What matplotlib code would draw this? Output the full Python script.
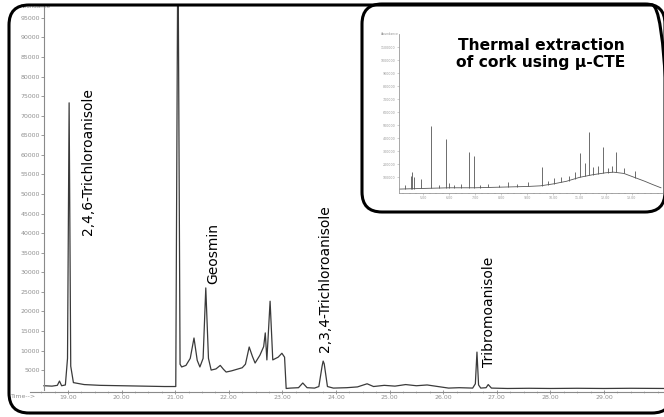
import numpy as np
import matplotlib.pyplot as plt
from matplotlib.patches import FancyBboxPatch
from matplotlib.ticker import MultipleLocator

# TIC of the cork sample, zoomed on the taint compounds (time in min)
time_min = [18.55, 18.70, 18.80, 18.84, 18.88, 18.95, 18.99, 19.02, 19.05, 19.10,
            19.30, 19.60, 20.00, 20.40, 20.80, 21.01, 21.05, 21.09, 21.12, 21.20,
            21.28, 21.35, 21.41, 21.46, 21.52, 21.57, 21.62, 21.67, 21.76, 21.84,
            21.90, 21.95, 22.05, 22.15, 22.25, 22.31, 22.38, 22.44, 22.49, 22.58,
            22.65, 22.68, 22.71, 22.77, 22.82, 22.92, 22.99, 23.04, 23.07, 23.15,
            23.30, 23.38, 23.46, 23.60, 23.68, 23.74, 23.76, 23.78, 23.84, 23.95,
            24.20, 24.40, 24.58, 24.70, 24.90, 25.10, 25.30, 25.50, 25.70, 25.90,
            26.10, 26.30, 26.55, 26.60, 26.63, 26.66, 26.70, 26.80, 26.84, 26.90,
            27.20, 27.60, 28.00, 28.50, 29.00, 29.50, 30.15]
abundance = [1000, 900, 1100, 2200, 1000, 1200, 8000, 73300, 6000, 1800,
             1300, 1100, 1000, 900, 800, 800, 120000, 6500, 5800, 6200,
             8000, 13200, 7500, 5800, 8000, 26000, 8000, 5000, 5300, 6200,
             5200, 4500, 4800, 5200, 5600, 6500, 10900, 8500, 6800, 8800,
             11000, 14500, 7600, 22600, 7600, 8300, 9300, 8300, 300, 400,
             500, 1700, 500, 400, 800, 6000, 7300, 6600, 800, 400,
             500, 700, 1500, 800, 1100, 900, 1300, 1000, 1200, 800,
             400, 500, 400, 1500, 9600, 1200, 400, 500, 1300, 400,
             300, 350, 300, 350, 300, 350, 300]

compounds = ["2,4,6-Trichloroanisole", "Geosmin", "2,3,4-Trichloroanisole", "Tribromoanisole"]
x_ticks = [19, 20, 21, 22, 23, 24, 25, 26, 27, 28, 29]
y_ticks = list(range(5000, 100000, 5000))

# full thermal extraction run for the small panel
inset_bg_t = [4.08, 5.0, 6.0, 7.0, 8.0, 9.0, 9.5, 10.0, 10.5, 11.0, 11.5, 12.0, 12.3, 12.7, 13.1, 13.5, 13.8, 14.12]
inset_bg_v = [0.1, 0.15, 0.2, 0.2, 0.25, 0.3, 0.35, 0.5, 0.7, 1.0, 1.2, 1.35, 1.4, 1.3, 1.0, 0.7, 0.45, 0.2]
inset_peak_t = [4.30, 4.55, 4.58, 4.64, 4.92, 5.31, 5.60, 5.88, 6.00, 6.20, 6.45, 6.76, 6.95,
                7.20, 7.49, 7.90, 8.26, 8.60, 9.02, 9.56, 9.80, 10.02, 10.30, 10.59, 10.82,
                11.02, 11.21, 11.36, 11.50, 11.70, 11.90, 12.09, 12.25, 12.39, 12.70, 13.12]
inset_peak_h = [0.4, 1.1, 1.41, 1.0, 0.87, 4.94, 0.4, 3.94, 0.6, 0.4, 0.5, 2.95, 2.64,
                0.45, 0.49, 0.45, 0.64, 0.5, 0.64, 1.80, 0.7, 0.95, 1.0, 1.10, 1.41,
                2.88, 2.09, 4.46, 1.8, 1.87, 3.33, 1.72, 1.9, 2.95, 1.7, 1.49]
inset_x_ticks = [5, 6, 7, 8, 9, 10, 11, 12, 13]

fig = plt.figure(figsize=(6.64, 4.17), dpi=100)
ax = fig.add_axes([30/664, 25/417, 634/664, 387/417])

ax.plot(time_min, abundance, color='#3a3a3a', lw=0.9)
ax.set_xlim(18.29, 30.12)
ax.set_ylim(-600, 98300)

for s in ['top', 'right']:
    ax.spines[s].set_visible(False)
ax.spines['left'].set_position(('data', 18.55))
ax.spines['left'].set_bounds(0, 98300)
for s in ['left', 'bottom']:
    ax.spines[s].set_color('#8a8a8a')
    ax.spines[s].set_linewidth(0.8)

ax.set_xticks(x_ticks)
ax.set_xticklabels(['%.2f' % t for t in x_ticks])
ax.xaxis.set_minor_locator(MultipleLocator(0.25))
ax.set_yticks(y_ticks)
ax.set_yticklabels([str(v) for v in y_ticks])
ax.tick_params(axis='both', labelsize=4.5, colors='#8a8a8a', labelcolor='#909090', width=0.6)
ax.tick_params(axis='x', direction='inout', length=3, pad=1)
ax.tick_params(axis='x', which='minor', direction='inout', length=2, width=0.5, colors='#aaaaaa')
ax.tick_params(axis='y', direction='out', length=2, pad=1)

# compound names, placed just right of their peaks
label_pos = [(19.37, 39500), (21.70, 27000), (23.80, 9600), (26.85, 5700)]
for name, (t, y) in zip(compounds, label_pos):
    ax.text(t, y, name, rotation=90, ha='center', va='bottom', fontsize=10, color='black')

fig.text(11/664, 1 - 397/417, 'Time-->', fontsize=4.5, color='#909090', va='center')
fig.text(20/664, 1 - 6/417, 'Abundance', fontsize=4, color='#909090', va='center')

# white panel with rounded corners for the full run
panel = FancyBboxPatch((3.62, 2.05), 3.03, 2.08, boxstyle='round,pad=0,rounding_size=0.2',
                       transform=fig.dpi_scale_trans, fc='white', ec='black', lw=2.2, zorder=1)
fig.add_artist(panel)

ins = fig.add_axes([399/664, 1 - 193/417, 263/664, 159/417], zorder=2)
ins.patch.set_alpha(0)
ins.plot(inset_bg_t, inset_bg_v, color='#555555', lw=0.6)
base = np.interp(inset_peak_t, inset_bg_t, inset_bg_v)
ins.vlines(inset_peak_t, base, inset_peak_h, color='#555555', lw=0.6)
ins.set_xlim(4.08, 14.16)
ins.set_ylim(-0.2, 12.0)
for s in ['top', 'right']:
    ins.spines[s].set_visible(False)
for s in ['left', 'bottom']:
    ins.spines[s].set_color('#999999')
    ins.spines[s].set_linewidth(0.6)
ins.set_xticks(inset_x_ticks)
ins.set_xticklabels(['%.2f' % t for t in inset_x_ticks])
ins.xaxis.set_minor_locator(MultipleLocator(0.25))
ins.set_yticks(range(1, 12))
ins.set_yticklabels([str(v * 100000) for v in range(1, 12)])
ins.tick_params(axis='both', labelsize=2.3, colors='#aaaaaa', labelcolor='#999999', length=1.5, width=0.4, pad=1)
ins.tick_params(axis='x', which='minor', length=1, width=0.3)
ins.text(4.08, 12.0, 'Abundance', fontsize=2.3, color='#999999', ha='right', va='center')

fig.text(541/664, 1 - 54/417, 'Thermal extraction\nof cork using µ-CTE', fontsize=11.2,
         fontweight='bold', ha='center', va='center', linespacing=1.2, zorder=3)

# outer rounded frame, right side runs off the page
frame = FancyBboxPatch((0.09, 0.04), 6.63, 4.08, boxstyle='round,pad=0,rounding_size=0.2',
                       transform=fig.dpi_scale_trans, fill=False, ec='black', lw=2.2, zorder=5)
fig.add_artist(frame)

fig.savefig('out.png', dpi=100)
